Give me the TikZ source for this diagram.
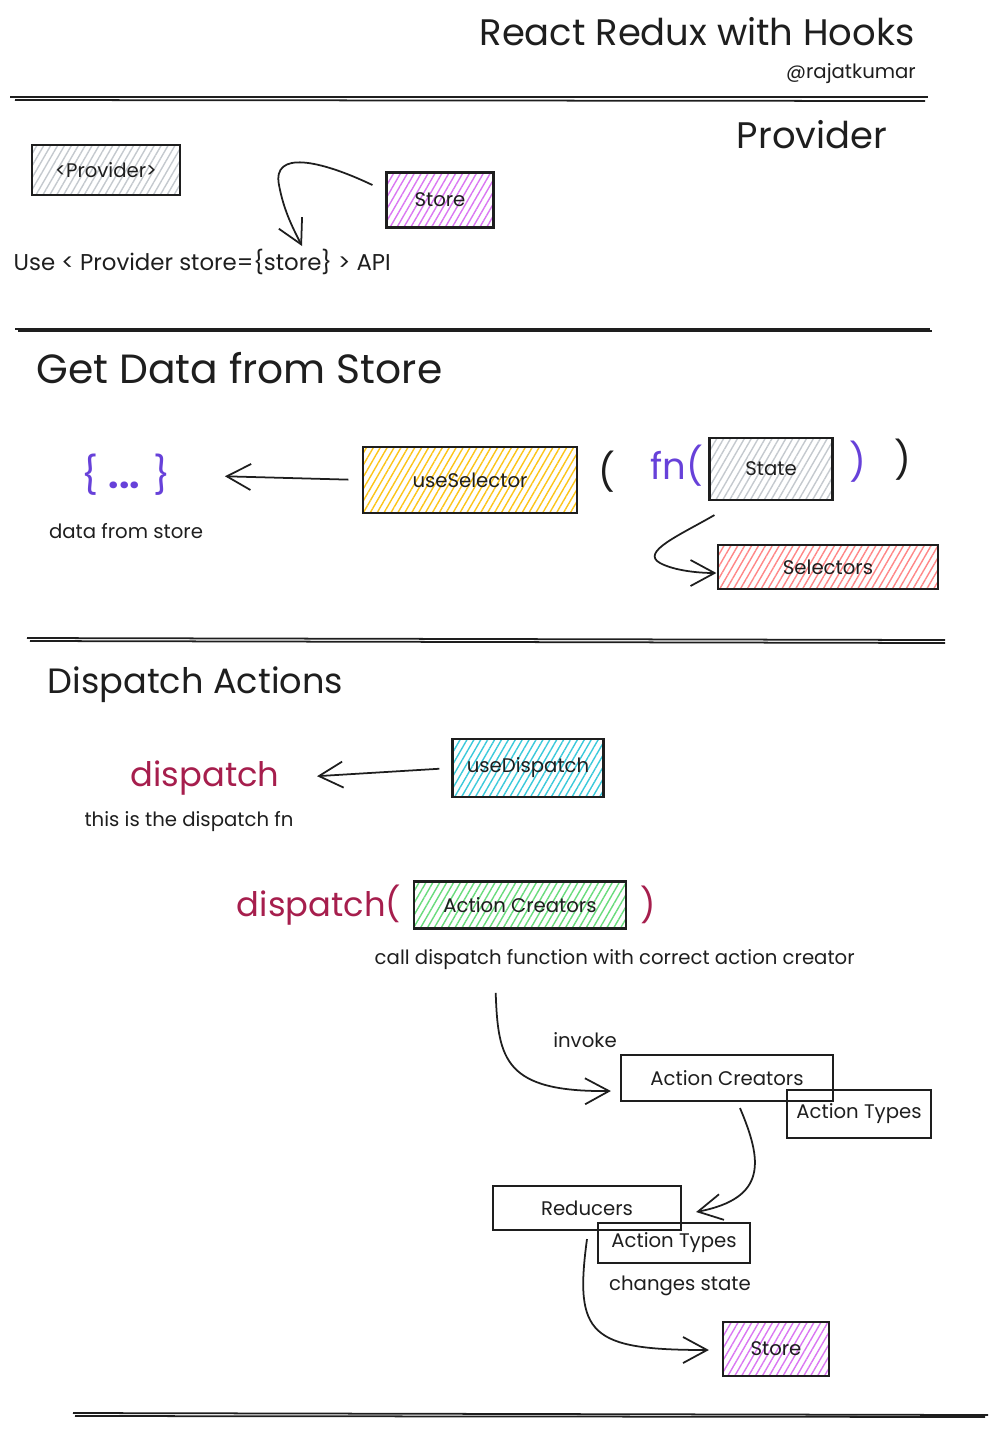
\documentclass[tikz,border=0pt]{standalone}
\usepackage{fontspec}
\setmainfont{Poppins}
\usepackage{xcolor}
\usetikzlibrary{arrows.meta, positioning, patterns.meta}

\definecolor{ink}{HTML}{1E1E1E}
\definecolor{hgray}{HTML}{C4C9CE}
\definecolor{hpurple}{HTML}{DA77F2}
\definecolor{hyellow}{HTML}{FCC419}
\definecolor{hred}{HTML}{FF8787}
\definecolor{hcyan}{HTML}{3BC9DB}
\definecolor{hgreen}{HTML}{69DB7C}
\definecolor{violetfn}{HTML}{6741D9}
\definecolor{crimson}{HTML}{A61E4D}

\begin{document}
\begin{tikzpicture}[
    x=0.01cm, y=-0.01cm,
    node distance=.3cm and 0.5cm,
    every node/.style={inner sep=2pt, align=center, text=ink},
    txt/.style={font=\fontsize{5.6}{7}\selectfont},
    heading/.style={font=\fontsize{10.5}{12}\selectfont},
    callfn/.style={font=\fontsize{9.6}{11}\selectfont, text=crimson},
    box/.style={draw=ink, line width=0.6pt, font=\fontsize{5.6}{7}\selectfont},
    hatch/.style={pattern={Lines[angle=60, distance=1.7pt, line width=0.4pt]}, pattern color=#1},
    arrow/.style={-{Straight Barb[length=2.4mm, width=2.6mm]}, line width=0.5pt, draw=ink},
    rule/.style={line width=0.5pt, draw=ink}
    ]
    \useasboundingbox (0,0) rectangle (1000,1429);

    % Nodes
    \node (title)     [heading] at (697,32) {React Redux with Hooks};
    \node (author)    [txt] at (851,74) {@rajatkumar};
    \node (provhead)  [heading] at (812,135) {Provider};
    \node (provider)  [box, hatch=hgray, minimum width=1.48cm, minimum height=0.5cm] at (106,170) {<Provider>};
    \node (store)     [box, hatch=hpurple, minimum width=1.07cm, minimum height=0.55cm] at (440,200) {Store};
    \node (useapi)    [txt, font=\fontsize{6.5}{8}\selectfont, anchor=west] at (6,262) {Use < Provider store=\{store\} > API};

    \node (gethead)   [heading, font=\fontsize{11.6}{13}\selectfont, anchor=west] at (29,368) {Get Data from Store};
    \node (braces)    [heading, text=violetfn] at (126,475) {\{ \textbf{...} \}};
    \node (fromstore) [txt, below=0.12cm of braces] {data from store};
    \node (usesel)    [box, hatch=hyellow, minimum width=2.13cm, minimum height=0.66cm] at (470,480) {useSelector};
    \node (lparen)    [heading] at (607,472) {(};
    \node (fn)        [heading, text=violetfn] at (677,466) {fn(};
    \node (state)     [box, hatch=hgray, minimum width=1.23cm, minimum height=0.62cm] at (771,469) {State};
    \node (rparenfn)  [heading, text=violetfn] at (858,462) {)};
    \node (rparen)    [heading] at (903,460) {)};
    \node (selectors) [box, hatch=hred, minimum width=2.19cm, minimum height=0.44cm] at (828,567) {Selectors};

    \node (disphead)  [heading, font=\fontsize{10}{12}\selectfont, anchor=west] at (40,685) {Dispatch Actions};
    \node (dispfn)    [callfn] at (205,778) {dispatch};
    \node (dispnote)  [txt] at (189,822) {this is the dispatch fn};
    \node (usedisp)   [box, hatch=hcyan, minimum width=1.51cm, minimum height=0.58cm] at (528,768) {useDispatch};
    \node (dispcall)  [callfn] at (319,905) {dispatch(};
    \node (creators)  [box, hatch=hgreen, minimum width=2.11cm, minimum height=0.47cm] at (520,905) {Action Creators};
    \node (rparencall)[callfn] at (648,905) {)};
    \node (callnote)  [txt, anchor=west] at (367,960) {call dispatch function with correct action creator};

    \node (invoke)    [txt] at (585,1040) {invoke};
    \node (creators2) [box, minimum width=2.12cm, minimum height=0.46cm] at (727,1078) {Action Creators};
    \node (types1)    [box, minimum width=1.44cm, minimum height=0.48cm] at (859,1114) {Action Types};
    \node (reducers)  [box, minimum width=1.88cm, minimum height=0.44cm] at (587,1208) {Reducers};
    \node (types2)    [box, minimum width=1.52cm, minimum height=0.4cm] at (674,1243) {Action Types};
    \node (changes)   [txt] at (680,1286) {changes state};
    \node (store2)    [box, hatch=hpurple, minimum width=1.06cm, minimum height=0.54cm] at (776,1349) {Store};
    \coordinate (apitip) at (302,246);

    % Rules
    \draw[rule] (10,97) -- (928,97);
    \draw[rule] (15,100) -- (925,101);
    \draw[rule] (15,329) -- (930,329);
    \draw[rule] (18,331) -- (932,331);
    \draw[rule] (27,638) -- (945,640);
    \draw[rule] (30,641) -- (945,643);
    \draw[rule] (73,1413) -- (988,1415);
    \draw[rule] (75,1416) -- (985,1417);

    % Arrows
    \draw[arrow] ([shift={(-13,-15)}]store.west) .. controls (320,160) and (272,150) .. (279,185)
        .. controls (284,212) and (294,230) .. (apitip);
    \draw[arrow, shorten <=0.14cm, shorten >=0.47cm] (usesel.west) -- (braces.east);
    \draw[arrow] ([shift={(6,14)}]state.south west) .. controls (680,535) and (640,552) .. (660,563)
        .. controls (675,571) and (700,573) .. ([shift={(-1,6)}]selectors.west);
    \draw[arrow, shorten <=0.12cm, shorten >=0.3cm] (usedisp.west) -- (dispfn.east);
    \draw[arrow] ([shift={(-119,15)}]callnote.south) .. controls (498,1060) and (505,1092) .. ([shift={(-9,13)}]creators2.west);
    \draw[arrow] ([shift={(13,6)}]creators2.south) .. controls (762,1160) and (768,1198) .. ([shift={(14,4)}]reducers.east);
    \draw[arrow] ([shift={(0,8)}]reducers.south) .. controls (574,1335) and (590,1350) .. ([shift={(-13,1)}]store2.west);
\end{tikzpicture}
\end{document}
